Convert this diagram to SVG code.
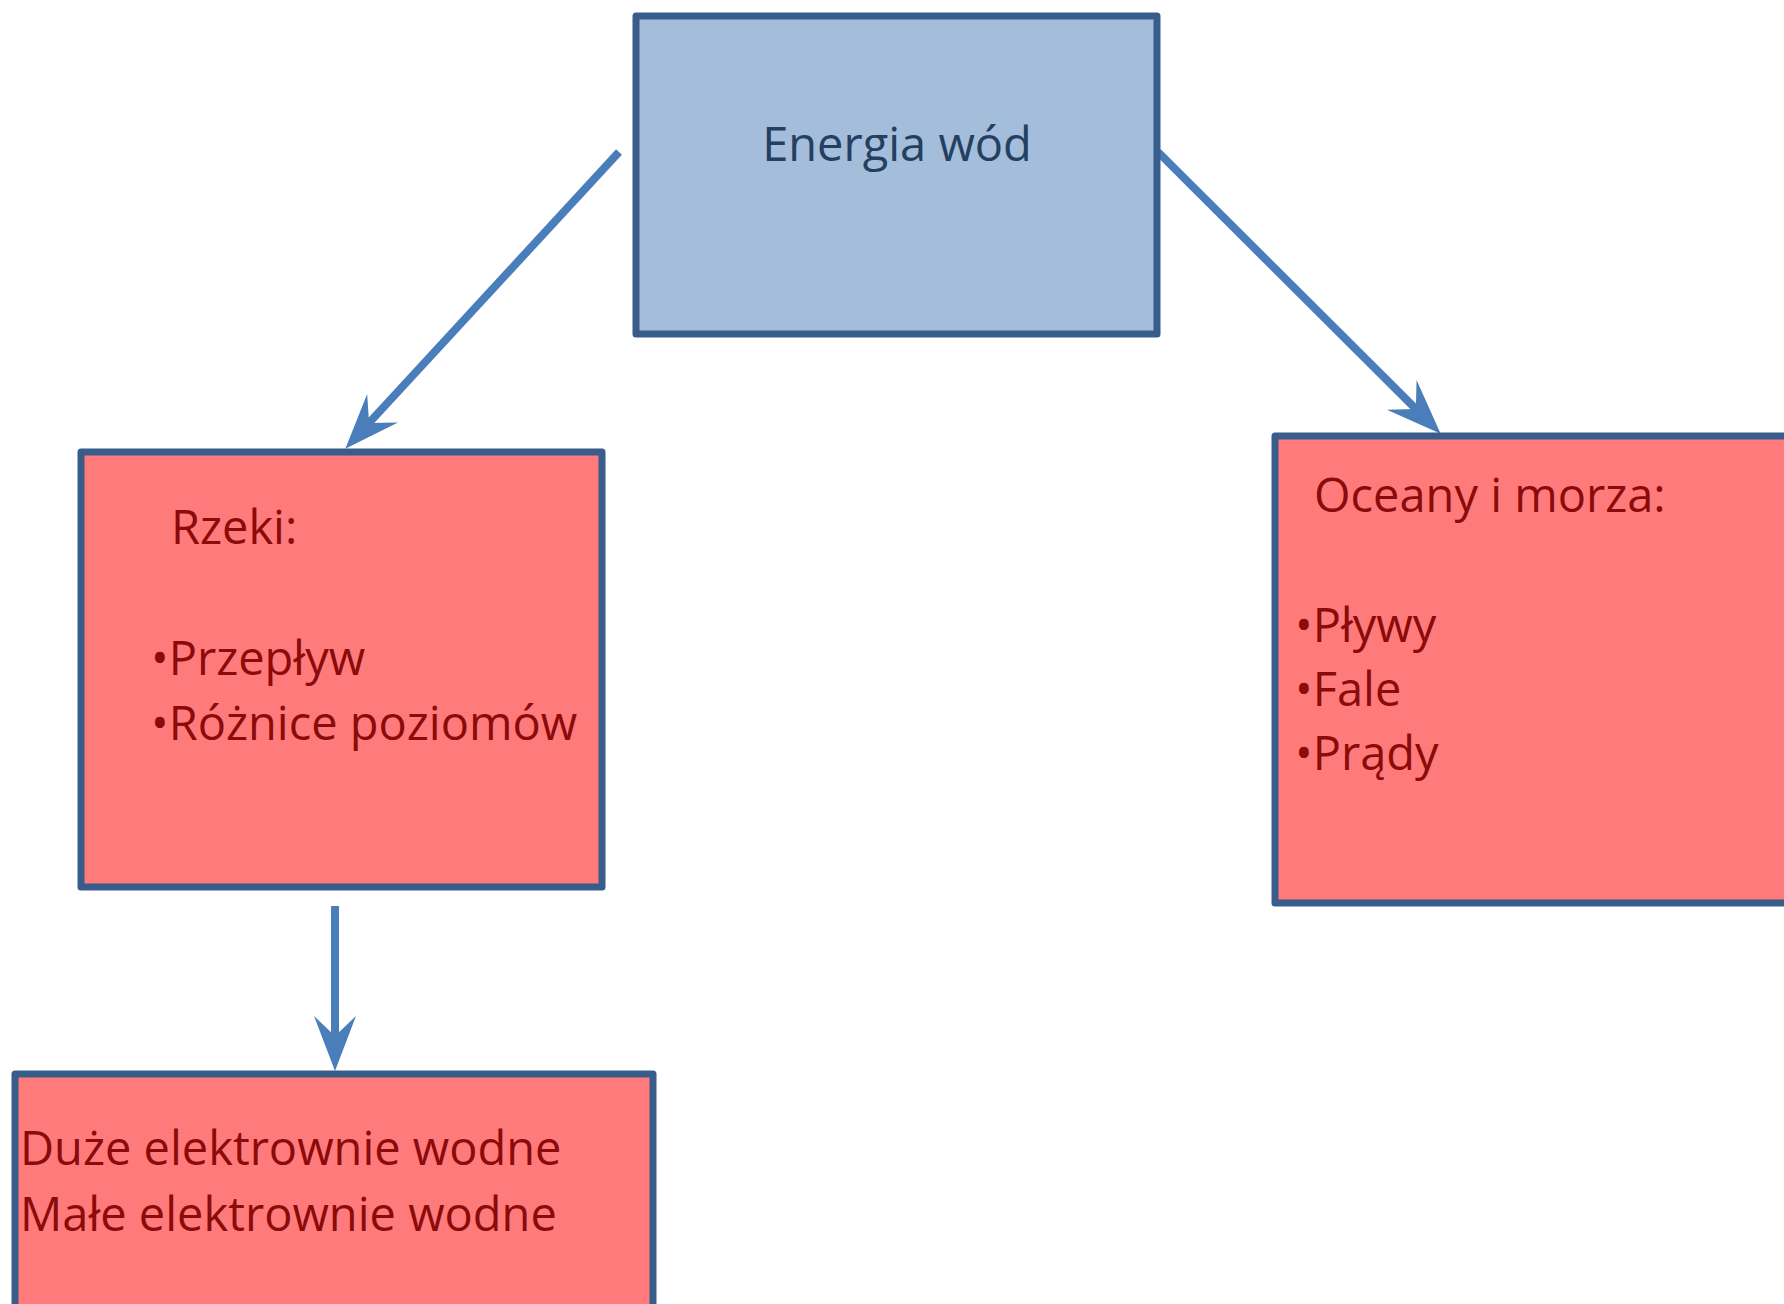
<svg xmlns="http://www.w3.org/2000/svg" width="1784" height="1304" viewBox="0 0 1784 1304">
<defs>
<style>
.box{stroke:#385D8A;stroke-width:7;stroke-linejoin:round}
.blue{fill:#A3BDDB}
.red{fill:#FF7B7B}
.t{font-family:"Open Sans","Noto Sans","DejaVu Sans",sans-serif;font-size:47px}
.tb{fill:#243F60}
.tr{fill:#8B0A0A}
.conn{stroke:#4A7EBB;stroke-width:8;fill:none;marker-end:url(#ah)}
</style>
<marker id="ah" markerUnits="userSpaceOnUse" viewBox="0 0 56 44" refX="22" refY="22" markerWidth="56" markerHeight="44" orient="auto">
<path d="M0,1 L55,22 L0,43 L20,22 Z" fill="#4A7EBB"/>
</marker>
</defs>
<rect width="1784" height="1304" fill="#FFFFFF"/>
<g id="connectors">
<line class="conn" x1="619" y1="152" x2="367.7" y2="424.4"/>
<line class="conn" x1="1158" y1="152" x2="1417.3" y2="410.4"/>
<line class="conn" x1="335" y1="906" x2="335" y2="1038"/>
</g>
<g id="node-energia">
<rect class="box blue" x="636" y="16" width="521" height="318"/>
<text class="t tb" x="897" y="161" text-anchor="middle">Energia wód</text>
</g>
<g id="node-rzeki">
<rect class="box red" x="81" y="452" width="521" height="435"/>
<text class="t tr" x="171" y="544">Rzeki:</text>
<text class="t tr" x="151" y="675">•Przepływ</text>
<text class="t tr" x="151" y="740">•Różnice poziomów</text>
</g>
<g id="node-oceany">
<rect class="box red" x="1275" y="436" width="560" height="467"/>
<text class="t tr" x="1314" y="512">Oceany i morza:</text>
<text class="t tr" x="1295" y="642">•Pływy</text>
<text class="t tr" x="1295" y="706">•Fale</text>
<text class="t tr" x="1295" y="770">•Prądy</text>
</g>
<g id="node-elektrownie">
<rect class="box red" x="15" y="1074" width="638" height="260"/>
<text class="t tr" x="20" y="1165">Duże elektrownie wodne</text>
<text class="t tr" x="20" y="1231">Małe elektrownie wodne</text>
</g>
</svg>
